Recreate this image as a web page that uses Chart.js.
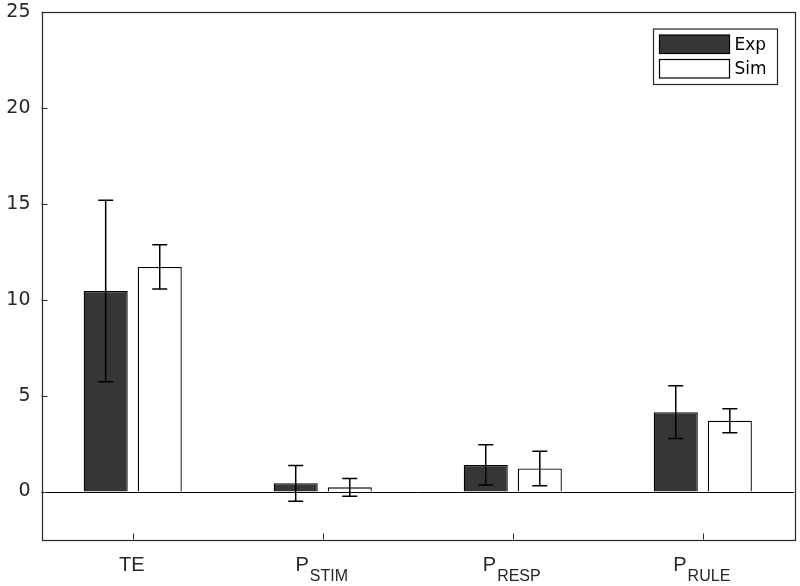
<!DOCTYPE html>
<html>
<head>
<meta charset="utf-8">
<script src="https://cdn.jsdelivr.net/npm/chart.js@4.4.1/dist/chart.umd.min.js"></script>
<style>
html,body{margin:0;padding:0;background:#fff;}
#c{display:block;}
</style>
</head>
<body>
<canvas id="c" width="800" height="586"></canvas>
<script>
// ---- data ----
const labelMain = ['TE', 'P', 'P', 'P'];
const labelSub = ['', 'STIM', 'RESP', 'RULE'];
const seriesNames = ['Exp', 'Sim'];
const expValues = [10.45, 0.43, 1.39, 4.14];
const expErrors = [4.73, 0.93, 1.05, 1.38];
const simValues = [11.71, 0.22, 1.20, 3.69];
const simErrors = [1.15, 0.46, 0.90, 0.62];
const yTicks = [0, 5, 10, 15, 20, 25];
const xPositions = [1, 2, 3, 4];

const FONT = "'Liberation Sans', Arial, Helvetica, sans-serif";
const WIDE_FONT = "'DejaVu Sans', 'Liberation Sans', sans-serif";
const AXIS_COLOR = '#262626';

const overlay = {
  id: 'overlay',
  beforeDatasetsDraw(chart) {
    const ctx = chart.ctx, a = chart.chartArea, ys = chart.scales.y;
    const y0 = Math.round(ys.getPixelForValue(0)) + 0.5;
    ctx.save();
    ctx.strokeStyle = '#000';
    ctx.lineWidth = 1;
    ctx.beginPath();
    ctx.moveTo(a.left, y0);
    ctx.lineTo(a.right, y0);
    ctx.stroke();
    ctx.restore();
  },
  afterDatasetsDraw(chart) {
    const ctx = chart.ctx, a = chart.chartArea, ys = chart.scales.y, xs = chart.scales.x;
    ctx.save();
    // error bars
    ctx.strokeStyle = '#000';
    ctx.lineWidth = 1.5;
    chart.data.datasets.forEach((ds, di) => {
      const meta = chart.getDatasetMeta(di);
      meta.data.forEach((bar, i) => {
        const v = ds.data[i].y, e = ds.errors[i];
        const x = bar.x;
        const yt = ys.getPixelForValue(v + e);
        const yb = ys.getPixelForValue(v - e);
        const cw = 7.5;
        ctx.beginPath();
        ctx.moveTo(x, yt); ctx.lineTo(x, yb);
        ctx.moveTo(x - cw, yt); ctx.lineTo(x + cw, yt);
        ctx.moveTo(x - cw, yb); ctx.lineTo(x + cw, yb);
        ctx.stroke();
      });
    });
    // box
    ctx.strokeStyle = AXIS_COLOR;
    ctx.lineWidth = 1.2;
    ctx.strokeRect(Math.round(a.left) + 0.5, Math.round(a.top) + 0.5,
      Math.round(a.right - a.left), Math.round(a.bottom - a.top));
    // tick marks (inward)
    ctx.lineWidth = 1;
    ctx.beginPath();
    yTicks.forEach(v => {
      const y = Math.round(ys.getPixelForValue(v)) + 0.5;
      ctx.moveTo(a.left, y); ctx.lineTo(a.left + 6, y);
    });
    xPositions.forEach(v => {
      const x = Math.round(xs.getPixelForValue(v)) + 0.5;
      ctx.moveTo(x, a.bottom); ctx.lineTo(x, a.bottom - 6);
    });
    ctx.stroke();
    // x labels with subscripts
    ctx.fillStyle = AXIS_COLOR;
    ctx.textBaseline = 'alphabetic';
    ctx.textAlign = 'left';
    const mainFont = '20px ' + FONT, subFont = '16px ' + FONT;
    xPositions.forEach((v, i) => {
      const cx = xs.getPixelForValue(v);
      ctx.font = mainFont;
      const wm = ctx.measureText(labelMain[i]).width;
      ctx.font = subFont;
      const wsub = labelSub[i] ? ctx.measureText(labelSub[i]).width + 1 : 0;
      const start = cx - (wm + wsub) / 2 - 1;
      ctx.font = mainFont;
      ctx.fillText(labelMain[i], start, 571);
      if (labelSub[i]) {
        ctx.font = subFont;
        ctx.fillText(labelSub[i], start + wm + 1, 581);
      }
    });
    // legend
    const lx = a.right - 141, ly = a.top + 16.5, lw = 124, lh = 55.5;
    ctx.fillStyle = '#fff';
    ctx.fillRect(lx, ly, lw, lh);
    ctx.strokeStyle = AXIS_COLOR;
    ctx.lineWidth = 1.2;
    ctx.strokeRect(lx + 0.5, ly + 0.5, lw, lh);
    const swX = lx + 6.5, swW = 70, swH = 18.5;
    const swY = [ly + 6.5, ly + 31];
    chart.data.datasets.forEach((ds, di) => {
      ctx.fillStyle = ds.backgroundColor;
      ctx.fillRect(swX, swY[di], swW, swH);
      ctx.strokeStyle = '#000';
      ctx.lineWidth = 1.2;
      ctx.strokeRect(swX, swY[di], swW, swH);
      ctx.fillStyle = '#000';
      ctx.font = '17px ' + WIDE_FONT;
      ctx.textBaseline = 'middle';
      ctx.fillText(seriesNames[di], swX + swW + 5, swY[di] + swH / 2 + 1);
    });
    ctx.restore();
  }
};

new Chart(document.getElementById('c'), {
  type: 'bar',
  data: {
    datasets: [
      {
        label: seriesNames[0],
        data: expValues.map((v, i) => ({ x: xPositions[i], y: v })),
        errors: expErrors,
        backgroundColor: '#363636',
        borderColor: '#000',
        borderWidth: 1.3,
        categoryPercentage: 0.569,
        barPercentage: 0.815
      },
      {
        label: seriesNames[1],
        data: simValues.map((v, i) => ({ x: xPositions[i], y: v })),
        errors: simErrors,
        backgroundColor: '#ffffff',
        borderColor: '#000',
        borderWidth: 1.3,
        categoryPercentage: 0.569,
        barPercentage: 0.815
      }
    ]
  },
  options: {
    responsive: false,
    animation: false,
    devicePixelRatio: 1,
    layout: { padding: { left: 0, top: 12, right: 6, bottom: 0 } },
    plugins: { legend: { display: false }, tooltip: { enabled: false } },
    scales: {
      x: {
        type: 'linear',
        min: 0.52,
        max: 4.48,
        offset: false,
        grid: { display: false, drawTicks: false },
        border: { display: false },
        ticks: { display: false },
        afterBuildTicks: s => { s.ticks = xPositions.map(v => ({ value: v })); },
        afterFit: s => { s.height = 46.5; s.paddingLeft = 0; s.paddingRight = 0; }
      },
      y: {
        min: -2.5,
        max: 25,
        grid: { display: false, drawTicks: false },
        border: { display: false },
        ticks: { padding: 11, color: AXIS_COLOR, font: { family: WIDE_FONT, size: 19 } },
        afterBuildTicks: s => { s.ticks = yTicks.map(v => ({ value: v })); },
        afterFit: s => { s.width = 41.5; s.paddingTop = 0; s.paddingBottom = 0; }
      }
    }
  },
  plugins: [overlay]
});
</script>
</body>
</html>
